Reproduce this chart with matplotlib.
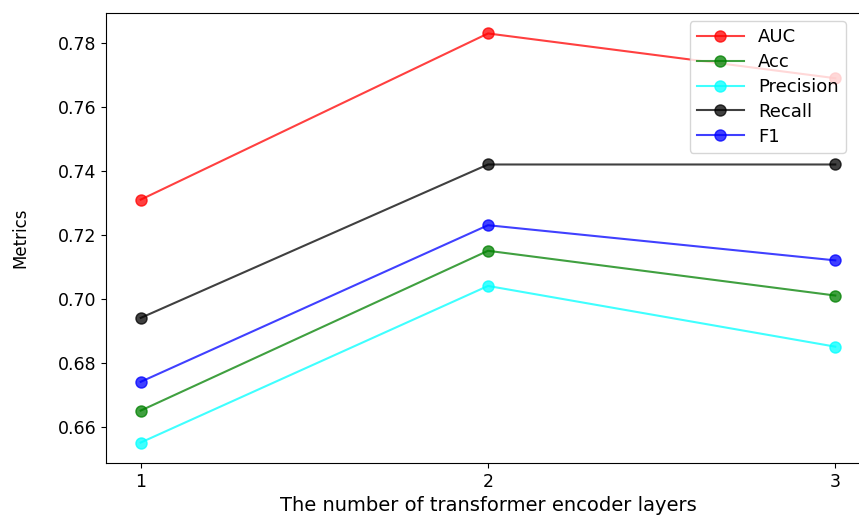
import matplotlib
matplotlib.use("Agg")
import matplotlib.pyplot as plt

layers = [1, 2, 3]
auc = [0.731, 0.783, 0.769]
acc = [0.665, 0.715, 0.701]
precision = [0.655, 0.704, 0.685]
recall = [0.694, 0.742, 0.742]
f1 = [0.674, 0.723, 0.712]

fig = plt.figure(figsize=(8.59, 5.16), dpi=100)
ax = fig.add_axes([106 / 859, 53 / 516, 764 / 859, 450 / 516])

ax.plot(layers, auc, 'o-', color='red', alpha=0.75, markersize=8, label='AUC')
ax.plot(layers, acc, 'o-', color='green', alpha=0.75, markersize=8, label='Acc')
ax.plot(layers, precision, 'o-', color='cyan', alpha=0.75, markersize=8, label='Precision')
ax.plot(layers, recall, 'o-', color='black', alpha=0.75, markersize=8, label='Recall')
ax.plot(layers, f1, 'o-', color='blue', alpha=0.75, markersize=8, label='F1')

ax.set_xlim(0.9, 3.1)
ax.spines['right'].set_visible(False)
ax.set_xticks(layers)
ax.set_yticks([0.66, 0.68, 0.70, 0.72, 0.74, 0.76, 0.78])
ax.set_yticklabels(['0.66', '0.68', '0.70', '0.72', '0.74', '0.76', '0.78'])
ax.tick_params(labelsize=12.5)
ax.set_xlabel('The number of transformer encoder layers', fontsize=14)
ax.set_ylabel('Metrics', fontsize=12)
ax.yaxis.set_label_coords(-0.1, 0.5)

ax.legend(loc='upper right', bbox_to_anchor=(846 / 859, 1 - 21 / 516),
          bbox_transform=fig.transFigure, borderaxespad=0, fontsize=13,
          handlelength=2.6, labelspacing=0.38)

fig.savefig('out.png', dpi=100)
